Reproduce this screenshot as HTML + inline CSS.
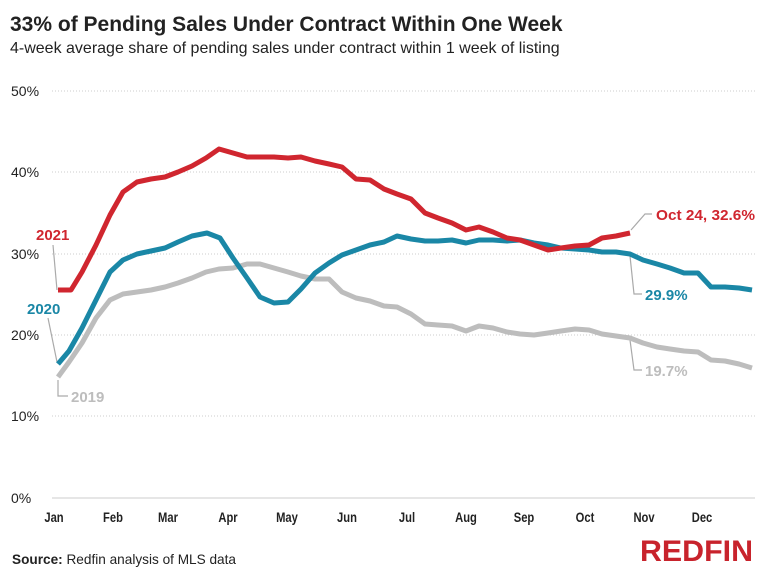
<!DOCTYPE html>
<html><head><meta charset="utf-8"><style>
body{margin:0;background:#fff;}
svg{display:block;font-family:"Liberation Sans",sans-serif;}
</style></head><body>
<svg width="768" height="576" viewBox="0 0 768 576">
<text x="10" y="31" font-size="21" font-weight="bold" fill="#222">33% of Pending Sales Under Contract Within One Week</text>
<text x="10" y="53" font-size="16" fill="#222">4-week average share of pending sales under contract within 1 week of listing</text>
<g stroke="#ccc" stroke-width="1" stroke-dasharray="1,2">
<line x1="52" x2="755" y1="91" y2="91"/><line x1="52" x2="755" y1="172" y2="172"/><line x1="52" x2="755" y1="254" y2="254"/><line x1="52" x2="755" y1="335" y2="335"/><line x1="52" x2="755" y1="416" y2="416"/>
</g>
<line x1="52" x2="755" y1="498" y2="498" stroke="#ccc"/>
<g font-size="14" fill="#222">
<text x="11" y="96">50%</text><text x="11" y="177">40%</text><text x="11" y="259">30%</text><text x="11" y="340">20%</text><text x="11" y="421">10%</text><text x="11" y="503">0%</text>
</g>
<g font-size="14" font-weight="bold" fill="#222" text-anchor="middle">
<text transform="translate(54,522) scale(0.8,1)">Jan</text><text transform="translate(113,522) scale(0.8,1)">Feb</text><text transform="translate(168,522) scale(0.8,1)">Mar</text><text transform="translate(228,522) scale(0.8,1)">Apr</text><text transform="translate(287,522) scale(0.8,1)">May</text><text transform="translate(347,522) scale(0.8,1)">Jun</text><text transform="translate(407,522) scale(0.8,1)">Jul</text><text transform="translate(466,522) scale(0.8,1)">Aug</text><text transform="translate(524,522) scale(0.8,1)">Sep</text><text transform="translate(585,522) scale(0.8,1)">Oct</text><text transform="translate(644,522) scale(0.8,1)">Nov</text><text transform="translate(702,522) scale(0.8,1)">Dec</text>
</g>
<g fill="none" stroke="#aaa" stroke-width="1.2">
<polyline points="53,245 57,290"/>
<polyline points="48,318 57,362"/>
<polyline points="58,380 58,396 68,396"/>
<polyline points="631,230 645,214 652,214"/>
<polyline points="630,256 634,294 642,294"/>
<polyline points="630,340 634,370 642,370"/>
</g>
<g fill="none" stroke-width="5" stroke-linejoin="round" stroke-linecap="butt">
<polyline stroke="#bdbdbd" points="58,377 69,362 82,343 96,318 110,300 123,294 137,292 151,290 165,287 178,283 192,278 206,272 219,269 233,268 247,264 260,264 274,268 288,272 301,276 315,279 329,279 342,292 356,298 370,301 384,306 397,307 411,314 425,324 438,325 452,326 466,331 479,326 493,328 507,332 520,334 534,335 548,333 561,331 575,329 589,330 602,334 616,336 630,338 643,343 657,347 670,349 684,351 698,352 711,360 725,361 739,364 752,368"/>
<polyline stroke="#1a87a6" points="58,364 69,351 82,328 96,300 110,272 123,260 137,254 151,251 165,248 178,242 192,236 207,233 220,238 233,258 247,278 260,297 274,303 288,302 301,289 315,273 329,263 342,255 356,250 370,245 384,242 397,236 411,239 425,241 438,241 452,240 466,243 479,240 493,240 507,241 520,240 534,243 548,245 561,248 575,249 589,250 602,252 616,252 630,254 643,260 657,264 670,268 684,273 698,273 711,287 725,287 739,288 752,290"/>
<polyline stroke="#d0262f" points="58,290 71,290 82,272 96,245 110,215 123,192 137,182 151,179 165,177 178,172 192,166 206,158 219,149 233,153 247,157 260,157 274,157 288,158 301,157 315,161 329,164 342,167 356,179 370,180 384,189 397,194 411,199 425,213 438,218 452,223 466,230 479,227 493,232 507,238 520,240 534,245 548,250 561,248 575,246 589,245 602,238 616,236 630,233"/>
</g>
<g font-size="15" font-weight="bold">
<text x="36" y="240" fill="#d0262f">2021</text>
<text x="27" y="314" fill="#1a87a6">2020</text>
<text x="71" y="402" fill="#bdbdbd">2019</text>
<text x="656" y="220" fill="#d0262f" textLength="99" lengthAdjust="spacingAndGlyphs">Oct 24, 32.6%</text>
<text x="645" y="300" fill="#1a87a6">29.9%</text>
<text x="645" y="376" fill="#bdbdbd">19.7%</text>
</g>
<text x="12" y="564" font-size="14" fill="#222" textLength="224" lengthAdjust="spacingAndGlyphs"><tspan font-weight="bold">Source:</tspan> Redfin analysis of MLS data</text>
<text x="640" y="561" font-size="30" font-weight="bold" fill="#c8232c" textLength="113" lengthAdjust="spacingAndGlyphs">REDFIN</text>
</svg>
</body></html>
